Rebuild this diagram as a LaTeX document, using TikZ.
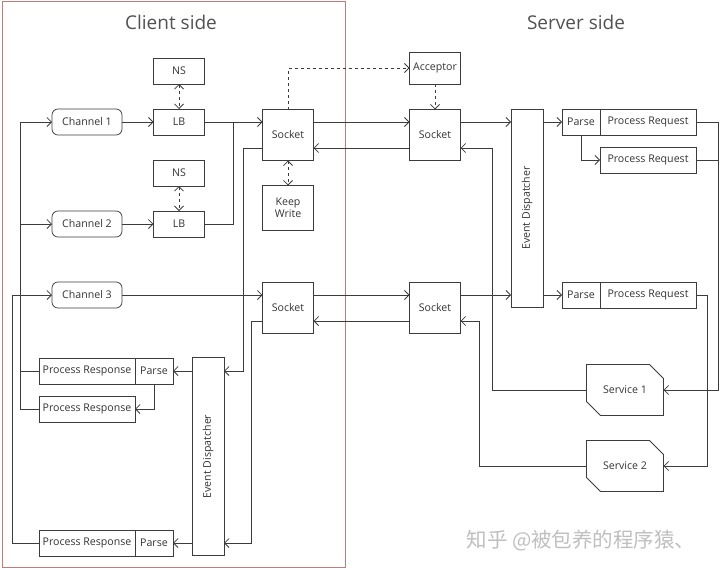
\documentclass[tikz,border=0pt]{standalone}
\usepackage{fontspec}
\setmainfont{Open Sans}
\newfontfamily\cjk{Noto Sans CJK SC}
\usetikzlibrary{arrows.meta,positioning,shapes.misc}
\definecolor{frameRed}{RGB}{196,124,118}
\definecolor{lineGray}{RGB}{60,60,60}
\definecolor{textGray}{RGB}{51,51,51}
\tikzset{
  >={Straight Barb[length=4.5pt,width=9pt]},
  box/.style={draw=lineGray,rectangle,inner sep=1pt,outer sep=0pt,minimum width=51pt,minimum height=26pt,text=textGray},
  chan/.style={box,rounded corners=6pt,minimum width=70pt},
  sock/.style={box,minimum height=51pt},
  disp/.style={box,minimum width=32pt,minimum height=198pt,label={[rotate=90,text=textGray]center:Event Dispatcher}},
  part/.style={box,minimum width=38pt},
  proc/.style={box,minimum width=96pt},
  svc/.style={draw=lineGray,chamfered rectangle,chamfered rectangle corners={north east,south west},chamfered rectangle sep=7pt,outer sep=0pt,minimum width=77pt,minimum height=51pt,text=textGray},
  link/.style={->,draw=lineGray},
  ctl/.style={<->,draw=lineGray,dashed},
  title/.style={font=\fontsize{19}{22}\selectfont,text=textGray!85}
}
\begin{document}
\begin{tikzpicture}[x=1pt,y=-1pt,line width=0.75pt,every node/.style={font=\fontsize{10.6}{12.5}\selectfont}]
\useasboundingbox (0,0) rectangle (720,570);
\node[title] (clientT) at (171,22) {Client side};
\node[title] (serverT) at (576,22) {Server side};
\draw[frameRed] (2,1) rectangle (345,567);
% client side
\node[box] (nsA) at (179,71) {NS};
\node[box] (lbA) at (179,122) {LB};
\node[chan] (chA) at (87,122) {Channel 1};
\node[box] (nsB) at (179,173) {NS};
\node[box] (lbB) at (179,224) {LB};
\node[chan] (chB) at (87,224) {Channel 2};
\node[chan] (chC) at (87,295) {Channel 3};
\node[sock] (sockCA) at (288,135) {Socket};
\node[box,minimum height=45pt,align=center] (keep) at (288,208) {Keep\\Write};
\node[sock] (sockCB) at (288,308) {Socket};
\node[disp] (edC) at (208,456.5) {};
\node[proc] (respA) at (87,371) {Process Response};
\node[part,right=0pt of respA] (parseRA) {Parse};
\node[proc] (respB) at (87,409) {Process Response};
\node[proc] (respC) at (87,543) {Process Response};
\node[part,right=0pt of respC] (parseRC) {Parse};
% server side
\node[box,minimum height=32pt] (accept) at (435,68) {Acceptor};
\node[sock] (sockSA) at (435,135) {Socket};
\node[sock] (sockSB) at (435,308) {Socket};
\node[disp] (edS) at (527,208) {};
\node[part] (parseA) at (581,122) {Parse};
\node[proc,right=0pt of parseA] (procA) {Process Request};
\node[proc] (procB) at (648,160) {Process Request};
\node[part] (parseC) at (581,295) {Parse};
\node[proc,right=0pt of parseC] (procC) {Process Request};
\node[svc] (svcA) at (625,390) {Service 1};
\node[svc] (svcB) at (625,466) {Service 2};
\node[text=black!25,font=\cjk\fontsize{20.5}{24}\selectfont] (mark) at (581,541) {知乎 @被包养的程序猿、};
% joints
\coordinate (jnA) at (233,122);
\coordinate (railS) at (718,122);
\coordinate (retA) at (492,148);
\coordinate (retB) at (479,321);
\coordinate (cdA) at (243,371);
\coordinate (cdB) at (251,543);
\coordinate (railC) at (20,122);
\coordinate (railD) at (12,295);
% requests
\draw[link] (chA) -- (lbA);
\draw[link] (chB) -- (lbB);
\draw[link] (lbA) -- (lbA -| sockCA.west);
\draw[lineGray] (lbB.east) -| (jnA);
\draw[link] (chC) -- (chC -| sockCB.west);
\draw[link] ([yshift=13pt]sockCA.east) -- ([yshift=13pt]sockSA.west);
\draw[link] ([yshift=13pt]sockCB.east) -- ([yshift=13pt]sockSB.west);
\draw[link] ([yshift=13pt]sockSA.east) -- (edS.west |- parseA);
\draw[link] ([yshift=13pt]sockSB.east) -- (edS.west |- parseC);
\draw[link] (edS.east |- parseA) -- (parseA);
\draw[link] (edS.east |- parseC) -- (parseC);
\draw[link] (parseA.south) |- (procB.west);
\draw[link] (procA.east) -- (railS) |- (svcA.east);
\draw[lineGray] (procB.east) -- (procB.east -| railS);
\draw[link] (procC.east) -- ++(11,0) |- (svcB.east);
% control
\draw[ctl] (nsA) -- (lbA);
\draw[ctl] (nsB) -- (lbB);
\draw[ctl] (sockCA) -- (keep);
\draw[->,lineGray,dashed] (sockCA.north) |- (accept.west);
\draw[->,lineGray,dashed] (accept) -- (sockSA);
% responses
\draw[link] (svcA.west) -| (retA) -- ([yshift=-13pt]sockSA.east);
\draw[link] (svcB.west) -| (retB) -- ([yshift=-13pt]sockSB.east);
\draw[link] ([yshift=-13pt]sockSA.west) -- ([yshift=-13pt]sockCA.east);
\draw[link] ([yshift=-13pt]sockSB.west) -- ([yshift=-13pt]sockCB.east);
\draw[link] ([yshift=-13pt]sockCA.west) -| (cdA) -- (edC.east |- cdA);
\draw[link] ([yshift=-13pt]sockCB.west) -| (cdB) -- (edC.east |- cdB);
\draw[link] (edC.west |- parseRA) -- (parseRA);
\draw[link] (edC.west |- parseRC) -- (parseRC);
\draw[link] (parseRA.south) |- (respB.east);
\draw[link] (respB.west) -| (railC) -- (chA.west);
\draw[link] (railC |- chB) -- (chB.west);
\draw[lineGray] (respA.west) -- (railC |- respA);
\draw[link] (respC.west) -| (railD) -- (chC.west);
\end{tikzpicture}
\end{document}
